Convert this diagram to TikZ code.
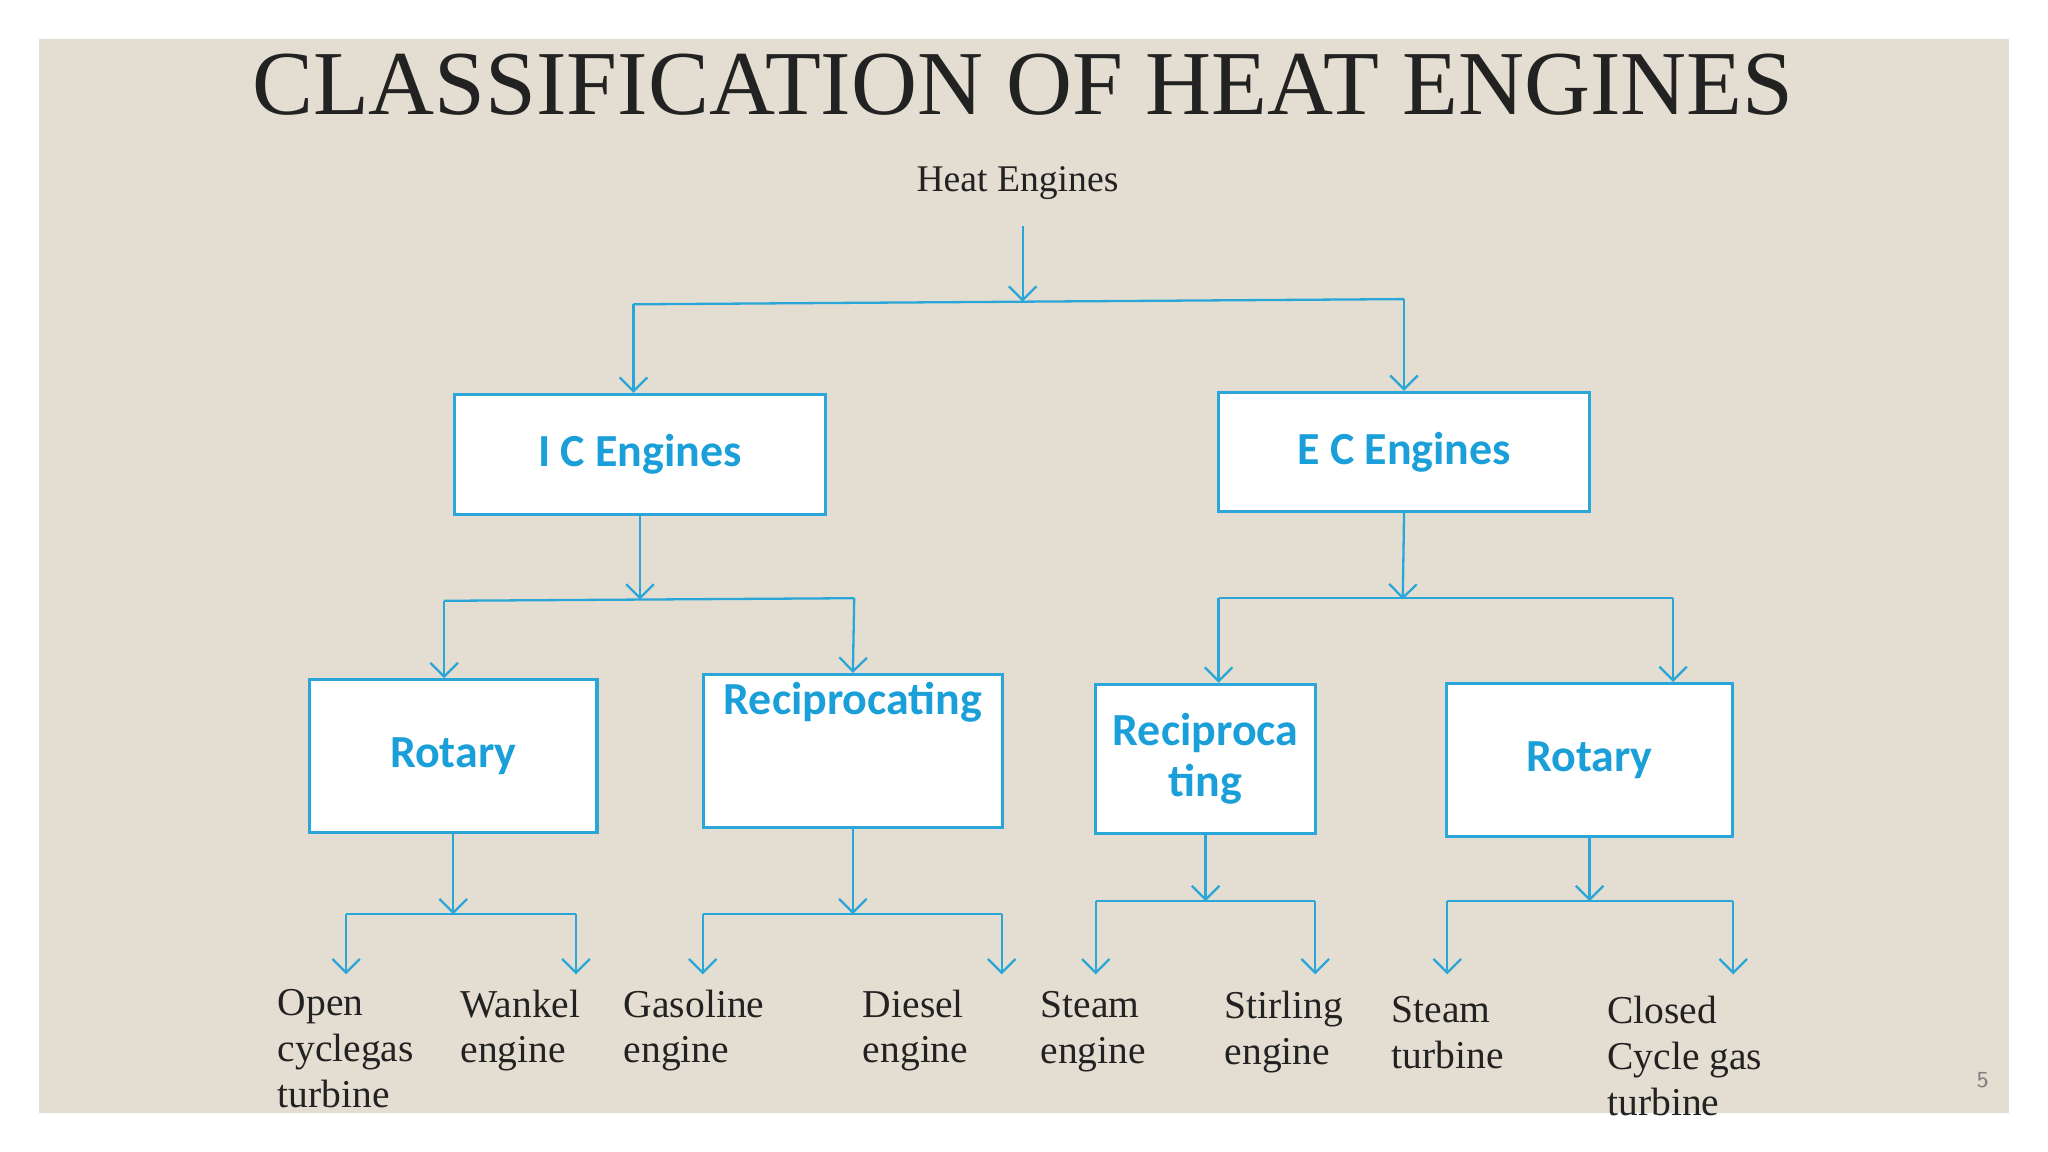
\documentclass[tikz,border=0pt]{standalone}
\usepackage{fontspec}
\usetikzlibrary{arrows.meta}
\setmainfont{Liberation Serif}
\newfontfamily\boxfont{Carlito}
\definecolor{bg}{HTML}{E3DED1}
\definecolor{ln}{HTML}{2AA6D8}
\definecolor{bx}{HTML}{1A9FD9}
\definecolor{tx}{HTML}{222222}
\begin{document}
\begin{tikzpicture}[x=0.01cm,y=-0.01cm,
  conn/.style={draw=ln,line width=0.5pt},
  arr/.style={conn,-{Straight Barb[length=3pt,width=6pt]}},
  ebox/.style={draw=ln,line width=0.7pt,fill=white,inner sep=0pt,font=\boxfont\bfseries\fontsize{10}{11}\selectfont,text=bx,align=center},
  leaf/.style={anchor=north west,inner sep=0pt,align=left,text=tx,font=\fontsize{8.6}{10}\selectfont}]
\useasboundingbox (0,0) rectangle (1568,882);
\fill[white] (0,0) rectangle (1568,882);
\fill[bg] (30,30) rectangle (1538,852);
\node[text=tx] (title) at (783,65) {\fontsize{19.9}{22}\selectfont CLASSIFICATION OF HEAT ENGINES};
\node[text=tx] (heat) at (779,140) {\fontsize{8.2}{10}\selectfont Heat Engines};
\node[ebox,minimum width=2.84cm,minimum height=0.92cm] (ic) at (490,348) {I C Engines};
\node[ebox,minimum width=2.84cm,minimum height=0.91cm] (ec) at (1075,346) {E C Engines};
\node[ebox,minimum width=2.20cm,minimum height=1.17cm] (rot1) at (347,579) {Rotary};
\node[ebox,minimum width=2.29cm,minimum height=1.17cm] (rec1) at (653,575) {Reciprocating\\[12pt]};
\node[ebox,minimum width=1.68cm,minimum height=1.14cm] (rec2) at (923,581) {Reciproca\\ting};
\node[ebox,minimum width=2.19cm,minimum height=1.17cm] (rot2) at (1217,582) {Rotary};
% leaves
\node[leaf] (l1) at (212,757) {Open\\cyclegas\\turbine};
\node[leaf] (l2) at (352,757) {Wankel\\engine};
\node[leaf] (l3) at (477,757) {Gasoline\\engine};
\node[leaf] (l4) at (660,757) {Diesel\\engine};
\node[leaf] (l5) at (796,758) {Steam\\engine};
\node[leaf] (l6) at (937,758) {Stirling\\engine};
\node[leaf] (l7) at (1065,762) {Steam\\turbine};
\node[leaf] (l8) at (1230,762) {Closed\\Cycle gas\\turbine};
\node[font=\sffamily\fontsize{5}{6}\selectfont,text=gray] (pg) at (1518,827) {5};
% level 1
\coordinate (h0) at (783,173); \coordinate (h1) at (783,231);
\draw[arr] (h0) -- (h1);
\draw[conn] (485,233) -- (1075,229);
\draw[arr] (485,233) -- (ic.north -| 485,0);
\draw[arr] (1075,229) -- (ec.north);
% IC
\coordinate (a0) at (490,459);
\draw[arr] (ic.south) -- (a0);
\draw[conn] (340,460) -- (654,458);
\draw[arr] (340,460) -- (rot1.north -| 340,0);
\draw[arr] (654,458) -- (rec1.north);
% EC
\coordinate (b0) at (1074,459);
\draw[arr] (ec.south) -- (b0);
\draw[conn] (933,458) -- (1281,458);
\draw[arr] (933,458) -- (rec2.north -| 933,0);
\draw[arr] (1281,458) -- (rot2.north -| 1281,0);
% bottom branches
\foreach \b/\y/\l/\r in {rot1/700/265/441, rec1/700/538/767, rec2/690/839/1007, rot2/690/1108/1327}{
  \draw[arr] (\b.south) -- (\b.south |- 0,\y);
  \draw[conn] (\l,\y) -- (\r,\y);
  \coordinate (\b L) at (\l,746); \coordinate (\b R) at (\r,746);
  \draw[arr] (\l,\y) -- (\b L);
  \draw[arr] (\r,\y) -- (\b R);
}
\end{tikzpicture}
\end{document}
